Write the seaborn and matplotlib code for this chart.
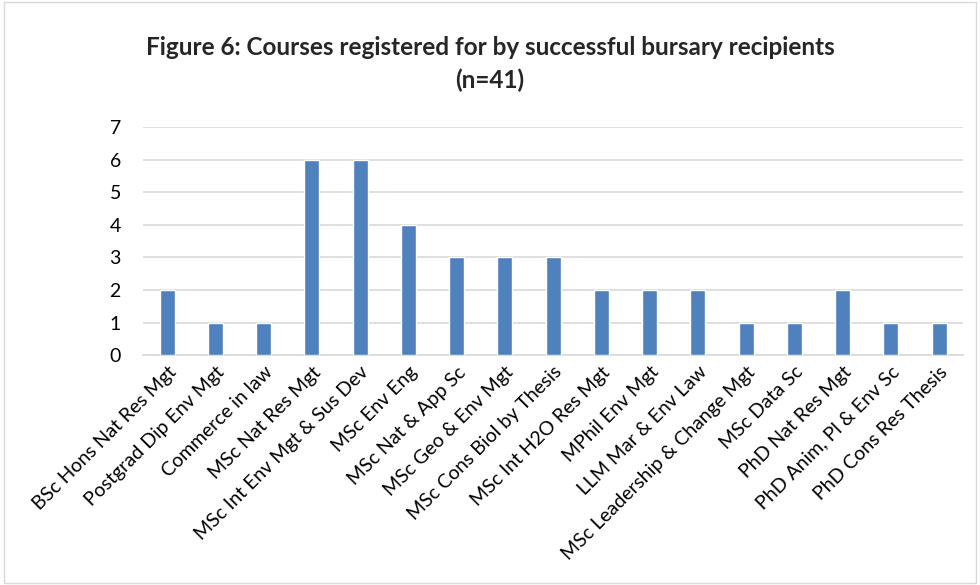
import matplotlib
matplotlib.use("Agg")
import matplotlib.pyplot as plt
import seaborn as sns
import pandas as pd
from matplotlib.patches import Rectangle

courses = ["BSc Hons Nat Res Mgt", "Postgrad Dip Env Mgt", "Commerce in law",
           "MSc Nat Res Mgt", "MSc Int Env Mgt & Sus Dev", "MSc Env Eng",
           "MSc Nat & App Sc", "MSc Geo & Env Mgt", "MSc Cons Biol by Thesis",
           "MSc Int H2O Res Mgt", "MPhil Env Mgt", "LLM Mar & Env Law",
           "MSc Leadership & Change Mgt", "MSc Data Sc", "PhD Nat Res Mgt",
           "PhD Anim, Pl & Env Sc", "PhD Cons Res Thesis"]
counts = [2, 1, 1, 6, 6, 4, 3, 3, 3, 2, 2, 2, 1, 1, 2, 1, 1]
yticks = [0, 1, 2, 3, 4, 5, 6, 7]

sns.set_theme(style="white")
plt.rcParams['font.family'] = ['Lato', 'DejaVu Sans']

df = pd.DataFrame({"course": courses, "count": counts})
fig = plt.figure(figsize=(9.8, 5.85), dpi=100)
ax = fig.add_axes([0.146, 0.393, 0.837, 0.39])
sns.barplot(data=df, x="course", y="count", color="#4F81BD", saturation=1,
            width=0.31, ax=ax, zorder=3)
ax.set_ylim(0, 7)
ax.set_yticks(yticks)
ax.set_xlim(-0.5, len(courses) - 0.5)
ax.grid(axis="y", color="#D9D9D9", linewidth=1.2, zorder=0)
for s in ["top", "right", "left"]:
    ax.spines[s].set_visible(False)
ax.spines["bottom"].set_color("#D9D9D9")
ax.spines["bottom"].set_linewidth(1.2)
ax.tick_params(axis="both", length=0, labelsize=14, colors="black")
ax.tick_params(axis="y", pad=16)
ax.tick_params(axis="x", pad=6)
ax.set_xticks(range(len(courses)))
ax.set_xticklabels(courses, rotation=45, ha="right", rotation_mode="anchor")
ax.set_xlabel("")
ax.set_ylabel("")
fig.text(0.5, 0.919, "Figure 6: Courses registered for by successful bursary recipients",
         ha="center", va="center", fontsize=17.5, fontweight="bold")
fig.text(0.5, 0.863, "(n=41)", ha="center", va="center", fontsize=17.5, fontweight="bold")
fig.patches.append(Rectangle((0.004, 0.004), 0.992, 0.992, transform=fig.transFigure,
                             fill=False, edgecolor="#D9D9D9", linewidth=1))
fig.savefig("out.png", dpi=100)
